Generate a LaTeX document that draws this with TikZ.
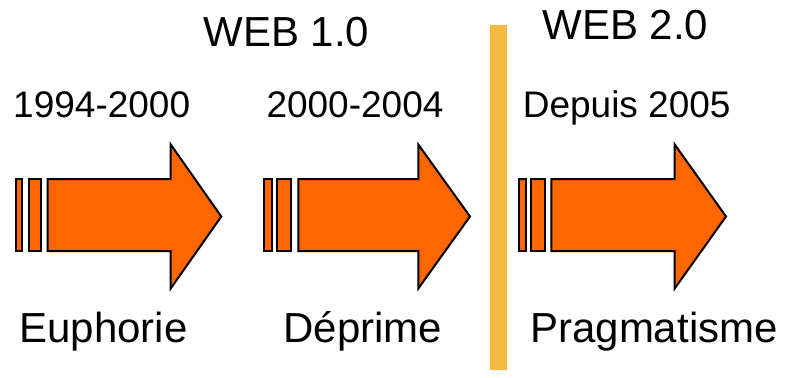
\documentclass[tikz,border=0pt]{standalone}
\usepackage{fontspec}
\setmainfont{Liberation Sans}
\definecolor{arrowor}{HTML}{FF6600}
\definecolor{sepor}{HTML}{F5B942}
\begin{document}
\begin{tikzpicture}[x=1pt,y=-1pt,
  piece/.style={fill=arrowor,draw=black,line width=2pt,line join=miter},
  bigtxt/.style={font=\fontsize{42}{42}\selectfont,anchor=base,inner sep=0pt},
  yeartxt/.style={font=\fontsize{37}{37}\selectfont,anchor=base,inner sep=0pt}]
\useasboundingbox (0,0) rectangle (786,377);
% separator
\fill[sepor] (490,25) rectangle (507,370);
% arrows
\newcommand{\timearrow}[7]{%
  \draw[piece] (#1,179) rectangle (#2,251);
  \draw[piece] (#3,179) rectangle (#4,251);
  \draw[piece] (#5,179) -- (#6,179) -- (#6,144.5) -- (#7,216.5) -- (#6,288.5) -- (#6,251) -- (#5,251) -- cycle;}
\timearrow{16}{22}{28.7}{41.3}{47.7}{170.7}{221.3}
\timearrow{264}{272.3}{276.7}{291.3}{298.3}{418.3}{470}
\timearrow{519.3}{526}{530.7}{545.3}{551.3}{674.7}{726}
% texts
\node[bigtxt] (w1) at (286.5,46.7) {WEB 1.0};
\node[bigtxt] (w2) at (625.3,39.3) {WEB 2.0};
\node[yeartxt] (y1) at (101.7,117.3) {1994-2000};
\node[yeartxt] (y2) at (355,117.3) {2000-2004};
\node[yeartxt] (y3) at (626.7,117.3) {Depuis 2005};
\node[bigtxt] (l1) at (103.5,342.7) {Euphorie};
\node[bigtxt] (l2) at (363,342.7) {Déprime};
\node[bigtxt] (l3) at (654,342.7) {Pragmatisme};
\end{tikzpicture}
\end{document}
